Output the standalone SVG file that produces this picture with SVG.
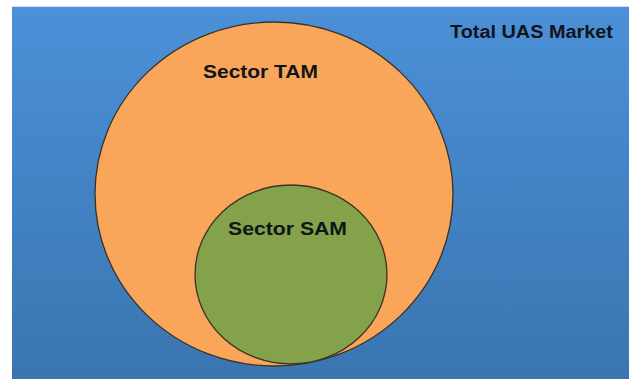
<svg xmlns="http://www.w3.org/2000/svg" width="629" height="379" viewBox="0 0 629 379">
<defs>
<linearGradient id="bg" x1="0" y1="0" x2="0" y2="1">
<stop offset="0" stop-color="#4b90d8"/>
<stop offset="1" stop-color="#3a75b0"/>
</linearGradient>
<style>
.lbl{font-family:"Liberation Sans",Arial,sans-serif;font-weight:bold;font-size:18px;fill:#111418}
.ring{stroke:#3a3226;stroke-width:1.3}
</style>
</defs>
<rect x="0" y="0" width="629" height="379" fill="#ffffff"/>
<rect x="12" y="7" width="617" height="372" fill="url(#bg)"/>
<line x1="12" y1="6.5" x2="629" y2="6.5" stroke="#c8def2" stroke-width="1"/>
<g id="market">
<text class="lbl" x="450" y="37.5" textLength="163" lengthAdjust="spacingAndGlyphs">Total UAS Market</text>
</g>
<g id="tam">
<ellipse class="ring" cx="274" cy="194" rx="179" ry="172" fill="#f9a65a"/>
<text class="lbl" x="203" y="77.5" textLength="115" lengthAdjust="spacingAndGlyphs">Sector TAM</text>
</g>
<g id="sam">
<ellipse class="ring" cx="291" cy="274.5" rx="96" ry="89.5" fill="#84a24a"/>
<text class="lbl" x="228" y="234.5" textLength="119" lengthAdjust="spacingAndGlyphs">Sector SAM</text>
</g>
<g id="connectors"></g>
</svg>
